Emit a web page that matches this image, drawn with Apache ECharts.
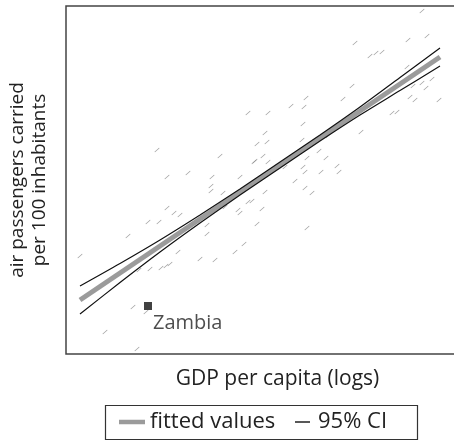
<!DOCTYPE html>
<html>
<head>
<meta charset="utf-8">
<script src="https://cdn.jsdelivr.net/npm/echarts@6/dist/echarts.min.js"></script>
<style>
  html, body { margin: 0; padding: 0; background: #fff; }
  #chart { width: 454px; height: 444px; }
</style>
</head>
<body>
<div id="chart"></div>
<script>
// Countries: log GDP per capita vs. log air passengers per 100 inhabitants
const gdpLog = [
  7.64, 5.82, 7.08, 7.82, 7.78, 6.02, 6.44, 6.92, 7.48, 11.12,
  9.78, 10.84, 11.22, 10.08, 10.20, 10.32, 10.82, 11.32, 11.12, 10.94,
  11.20, 9.72, 8.80, 9.54, 10.88, 10.98, 11.46, 8.50, 8.76, 8.04,
  10.52, 10.62, 9.90, 8.74, 7.98, 9.24, 8.02, 7.94, 7.76, 8.04,
  8.72, 9.06, 8.82, 9.20, 9.42, 8.74, 8.78, 9.10, 9.46, 8.38,
  8.58, 8.78, 8.92, 7.98, 7.72, 7.92, 7.82, 8.82, 6.90, 6.90,
  7.14, 7.64, 7.44, 7.48, 7.18, 6.82, 6.82, 7.56, 6.02, 6.16,
  6.28, 5.86, 5.64, 5.24, 4.28, 6.24, 6.68, 6.98, 7.38, 5.68,
  5.90, 6.00, 6.08, 5.46, 5.34, 5.60, 4.78, 5.42
];
const passengersLog = [
  1.32, 0.58, 0.46, 0.70, 0.36, 0.04, 0.12, 0.04, 0.04, 3.36,
  2.72, 2.78, 2.86, 2.46, 2.52, 2.54, 2.24, 2.00, 1.92, 1.86,
  1.82, 1.86, 1.62, 1.60, 1.64, 1.58, 1.58, 1.46, 1.44, 1.32,
  1.32, 1.34, 0.94, 1.10, 0.92, 0.86, 0.74, 0.46, 0.34, 0.34,
  0.78, 0.56, 0.42, 0.42, 0.26, 0.24, 0.14, 0.14, 0.14, 0.24,
  -0.04, -0.18, -0.28, -0.26, -0.44, -0.60, -0.90, -0.98, -0.14, -0.24,
  -0.28, -0.46, -0.62, -0.68, -0.56, -0.92, -1.10, -1.30, -0.58, -0.68,
  -0.72, -0.86, -0.86, -1.14, -1.54, -1.46, -1.60, -1.62, -1.46, -1.80,
  -1.78, -1.74, -1.70, -1.82, -2.56, -2.66, -3.06, -3.40
];

// Highlighted country
const zambiaName = 'Zambia';
const zambiaPoint = [5.64, -2.54];

// Fitted regression line and its 95% confidence band
const fitGdp = [4.28, 11.48];
const fitValues = [-2.42, 2.44];
const ciGdp = [4.28, 5.08, 5.88, 6.68, 7.48, 8.28, 9.08, 9.88, 10.68, 11.48];
const ciUpper = [-2.14, -1.69, -1.22, -0.72, -0.20, 0.34, 0.88, 1.44, 2.03, 2.62];
const ciLower = [-2.70, -2.07, -1.46, -0.88, -0.32, 0.22, 0.76, 1.28, 1.77, 2.26];

const xTitle = 'GDP per capita (logs)';
const yTitle = 'air passengers carried\nper 100 inhabitants';
const fitLabel = 'fitted values';
const ciLabel = '95% CI';

const FONT = 'Open Sans';
const pairs = (xs, ys) => xs.map((x, i) => [x, ys[i]]);

// short slanted stroke used for every country
const SLASH = 'path://M0,9 L9,0 L10,1 L1,10 Z';

const chart = echarts.init(document.getElementById('chart'), null, { renderer: 'canvas' });
chart.setOption({
  animation: false,
  backgroundColor: '#fff',
  textStyle: { fontFamily: FONT, color: '#222' },
  grid: {
    left: 66, right: -3, top: 6, bottom: 90,
    outerBoundsMode: 'none', containLabel: false,
    show: true, borderColor: '#444', borderWidth: 1.5
  },
  xAxis: {
    type: 'value', min: 4, max: 11.82,
    axisLine: { show: false }, axisTick: { show: false },
    axisLabel: { show: false }, splitLine: { show: false },
    name: xTitle, nameLocation: 'middle', nameGap: 15,
    nameTextStyle: { fontFamily: FONT, fontSize: 21, color: '#222', padding: [0, 0, 0, 32] }
  },
  yAxis: {
    type: 'value', min: -3.5, max: 3.46,
    axisLine: { show: false }, axisTick: { show: false },
    axisLabel: { show: false }, splitLine: { show: false },
    name: yTitle, nameLocation: 'middle', nameGap: 15, nameRotate: 90,
    nameTextStyle: { fontFamily: FONT, fontSize: 19, color: '#222', lineHeight: 22 }
  },
  legend: [
    {
      data: [{ name: fitLabel, icon: 'rect', itemStyle: { color: '#9b9b9b' } }],
      left: 119, top: 411, padding: 0,
      itemWidth: 26, itemHeight: 4.5,
      textStyle: { fontFamily: FONT, fontSize: 22, color: '#222' },
      selectedMode: false
    },
    {
      data: [{ name: ciLabel, icon: 'rect', itemStyle: { color: '#111' } }],
      left: 295, top: 411, padding: 0,
      itemWidth: 15, itemHeight: 1.4,
      textStyle: { fontFamily: FONT, fontSize: 22, color: '#222', padding: [0, 0, 0, 3] },
      selectedMode: false
    }
  ],
  graphic: [{
    type: 'rect', left: 103, top: 403,
    shape: { width: 312, height: 34 },
    style: { fill: 'none', stroke: '#333', lineWidth: 1.2 }
  }],
  series: [
    {
      type: 'scatter', name: 'countries',
      data: pairs(gdpLog, passengersLog),
      symbol: SLASH, symbolSize: [5, 4.6],
      itemStyle: { color: '#888' }, z: 1, silent: true
    },
    {
      type: 'line', name: fitLabel,
      data: pairs(fitGdp, fitValues),
      showSymbol: false, lineStyle: { color: '#9b9b9b', width: 5 }, z: 2, silent: true
    },
    {
      type: 'line', name: ciLabel,
      data: pairs(ciGdp, ciUpper), smooth: 0.3,
      showSymbol: false, lineStyle: { color: '#111', width: 1.2 }, z: 3, silent: true
    },
    {
      type: 'line', name: ciLabel + ' ',
      data: pairs(ciGdp, ciLower), smooth: 0.3,
      showSymbol: false, lineStyle: { color: '#111', width: 1.2 }, z: 3, silent: true
    },
    {
      type: 'scatter', name: zambiaName,
      data: [{ value: zambiaPoint, name: zambiaName }],
      symbol: 'rect', symbolSize: 8,
      itemStyle: { color: '#111' }, z: 4, silent: true,
      label: {
        show: true, formatter: '{b}', position: [9, 21],
        align: 'left', verticalAlign: 'middle',
        fontFamily: FONT, fontSize: 20, color: '#222'
      }
    }
  ]
});
</script>
</body>
</html>
